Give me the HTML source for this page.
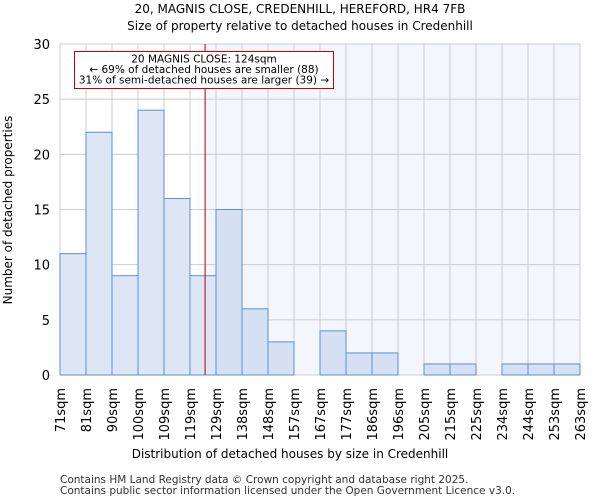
<!DOCTYPE html>
<html><head><meta charset="utf-8"><style>
body{margin:0;background:#fff;font-family:"DejaVu Sans","Liberation Sans",sans-serif}
</style></head><body>
<svg id="c" width="600" height="500" xmlns="http://www.w3.org/2000/svg" font-family="DejaVu Sans, Liberation Sans, sans-serif">
<text x="300" y="13" text-anchor="middle" font-size="12">20, MAGNIS CLOSE, CREDENHILL, HEREFORD, HR4 7FB</text>
<text x="300" y="30" text-anchor="middle" font-size="12">Size of property relative to detached houses in Credenhill</text>
<g id="plot"></g>
<text x="290" y="458" text-anchor="middle" font-size="12">Distribution of detached houses by size in Credenhill</text>
<text transform="translate(12,210) rotate(-90)" text-anchor="middle" font-size="12">Number of detached properties</text>
<text x="60" y="483" font-size="10.5" fill="#333">Contains HM Land Registry data © Crown copyright and database right 2025.</text>
<text x="60" y="494" font-size="10.5" fill="#333">Contains public sector information licensed under the Open Government Licence v3.0.</text>
</svg>
<script>
const binLabels=["71sqm","81sqm","90sqm","100sqm","109sqm","119sqm","129sqm","138sqm","148sqm","157sqm","167sqm","177sqm","186sqm","196sqm","205sqm","215sqm","225sqm","234sqm","244sqm","253sqm","263sqm"];
const counts=[11,22,9,24,16,9,15,6,3,0,4,2,2,0,1,1,0,1,1,1];
const yTicks=[0,5,10,15,20,25,30];
const propertyBinPos=5.58;
const NS="http://www.w3.org/2000/svg";
const L=60,R=580,T=44,B=375,yMax=30;
const bw=(R-L)/counts.length;
const xs=i=>L+i*bw;
const ys=v=>B-(v/yMax)*(B-T);
const g=document.getElementById('plot');
function mk(t,a){const e=document.createElementNS(NS,t);for(const k in a)e.setAttribute(k,a[k]);g.appendChild(e);return e;}
const px=xs(propertyBinPos);
let e=mk('rect',{x:px,y:T,width:R-px,height:B-T,fill:'#f3f6fd'});

for(let i=0;i<=counts.length;i++){e=mk('line',{x1:xs(i),x2:xs(i),y1:T,y2:B,stroke:'#ccc','stroke-width':1});
}
yTicks.forEach(t=>{e=mk('line',{x1:L,x2:R,y1:ys(t),y2:ys(t),stroke:'#ccc','stroke-width':1});

e=mk('text',{x:L-10,y:ys(t)+5,'text-anchor':'end','font-size':13});e.textContent=t;
});
counts.forEach((v,i)=>{if(v<=0)return;e=mk('rect',{x:xs(i),y:ys(v),width:bw,height:B-ys(v),fill:xs(i)>=px?'#d6e0f3':'#dde6f4',stroke:'#5b8fd6','stroke-width':1});
});
binLabels.forEach((l,i)=>{e=mk('text',{transform:`translate(${xs(i)+5},388) rotate(-90)`,'text-anchor':'end','font-size':13});e.textContent=l;
});
e=mk('line',{x1:px,x2:px,y1:T,y2:B,stroke:'#a00','stroke-width':1});

e=mk('rect',{x:74.5,y:51.5,width:259,height:37,fill:'#fff',stroke:'#c00','stroke-width':1});

["20 MAGNIS CLOSE: 124sqm","← 69% of detached houses are smaller (88)","31% of semi-detached houses are larger (39) →"].forEach((t,i)=>{
e=mk('text',{x:204,y:62.5+i*10.5,'text-anchor':'middle','font-size':10.5});e.textContent=t;
});
</script>
</body></html>
